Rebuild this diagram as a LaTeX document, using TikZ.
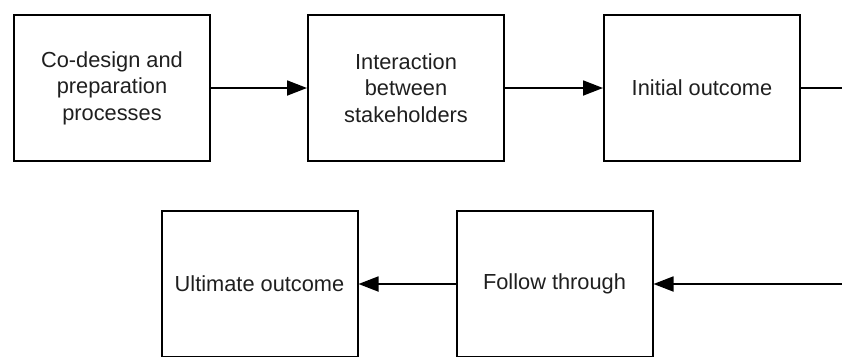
\documentclass[tikz,border=0pt]{standalone}
\usepackage{fontspec}
\setmainfont{Liberation Sans}
\usetikzlibrary{arrows.meta}
\begin{document}
\begin{tikzpicture}[x=1pt,y=-1pt,
  stage/.style={draw=black, line width=2pt, minimum width=196pt, minimum height=146pt,
    align=center, inner sep=0pt, font=\fontsize{21.8pt}{26.5pt}\selectfont, text=black!88},
  flow/.style={line width=1.8pt, -{Triangle[length=20pt,width=15pt]}},
  plain/.style={line width=1.8pt}]
  \useasboundingbox (0,0) rectangle (842,356);
  \node[stage] (codesign) at (112,88) {Co-design and\\preparation\\processes};
  \node[stage] (interact) at (406,88) {Interaction\\between\\stakeholders};
  \node[stage] (initial) at (702,88) {Initial outcome};
  \node[stage] (ultimate) at (259.5,284) {Ultimate outcome};
  \node[stage] (follow) at (554.5,284) {Follow through};
  \coordinate (exitA) at (842,88);
  \coordinate (exitB) at (842,284);
  \draw[flow] (codesign) -- (interact);
  \draw[flow] (interact) -- (initial);
  \draw[plain] (initial.east) -- (exitA);
  \draw[flow] (exitB) -- (follow.east);
  \draw[flow] (follow) -- (ultimate);
\end{tikzpicture}
\end{document}
